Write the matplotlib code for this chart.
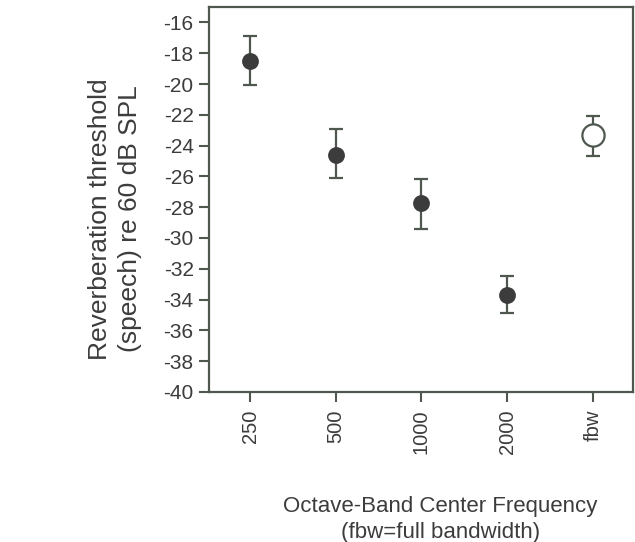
import matplotlib
matplotlib.use("Agg")
import matplotlib.pyplot as plt

BANDS = ["250", "500", "1000", "2000", "fbw"]
THRESH = [-18.5, -24.6, -27.7, -33.7, -23.3]
ERR_UP = [1.6, 1.65, 1.5, 1.2, 1.25]
ERR_DN = [1.55, 1.5, 1.75, 1.2, 1.4]
FILLED = [True, True, True, True, False]

INK = "#3c3c3c"
LINE = "#4e584e"

plt.rcParams["font.family"] = ["Liberation Sans", "DejaVu Sans"]
plt.rcParams["axes.unicode_minus"] = False

fig = plt.figure(figsize=(6.35, 5.42), dpi=100)
ax = fig.add_axes([0.329, 0.277, 0.668, 0.710])

for i, (y, up, dn, f) in enumerate(zip(THRESH, ERR_UP, ERR_DN, FILLED)):
    ax.errorbar(i, y, yerr=[[dn], [up]], fmt="o", color=LINE, ecolor=LINE,
                elinewidth=1.6, capsize=5, capthick=1.6,
                ms=10.5 if f else 16, mfc=INK if f else "white",
                mec=INK if f else LINE, mew=1.6, zorder=3)

ax.set_xlim(-0.48, 4.47)
ax.set_ylim(-40, -15)
ax.set_yticks(range(-40, -15, 2))
ax.set_xticks(range(len(BANDS)))
ax.set_xticklabels(BANDS, rotation=90)
ax.tick_params(axis="y", direction="out", length=7, width=1.5, color=LINE,
               labelsize=15, labelcolor=INK, pad=4)
ax.tick_params(axis="x", direction="out", length=7, width=1.5, color=LINE,
               labelsize=14.5, labelcolor=INK, pad=6)
for s in ax.spines.values():
    s.set_color(LINE)
    s.set_linewidth(1.6)

ax.set_ylabel("Reverberation threshold\n(speech) re 60 dB SPL", fontsize=19,
              color=INK, linespacing=1.3)
ax.yaxis.set_label_coords(-0.158, 0.45)
ax.set_xlabel("Octave-Band Center Frequency\n(fbw=full bandwidth)", fontsize=16,
              color=INK, linespacing=1.3)
ax.xaxis.set_label_coords(0.545, -0.27)

fig.savefig("out.png", dpi=100)
